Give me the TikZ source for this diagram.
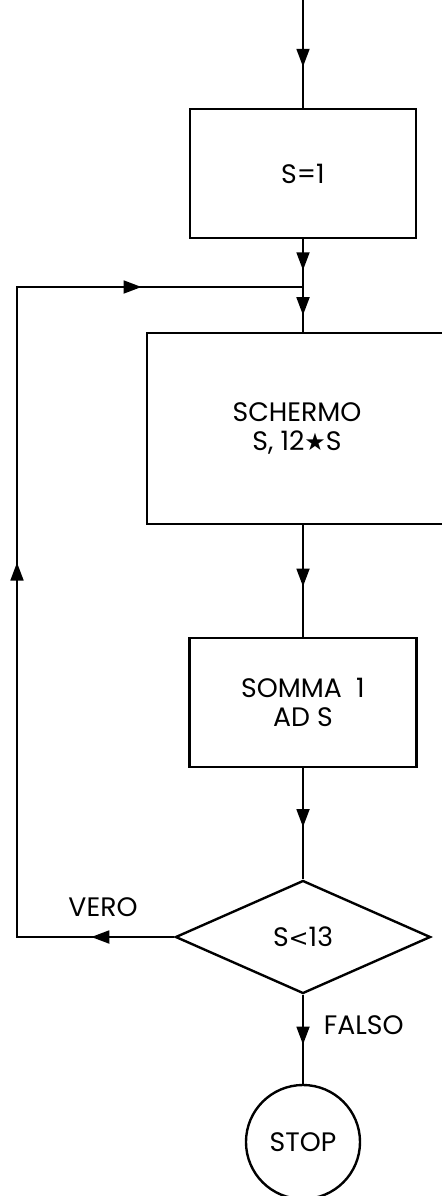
\documentclass[tikz,border=0pt]{standalone}
\usepackage{fontspec}
\setmainfont{Poppins}
\newfontfamily\symfont{DejaVu Sans}
\usetikzlibrary{arrows.meta, shapes.geometric, decorations.markings}

\tikzset{
  stepbox/.style={draw, rectangle, align=center, inner sep=0pt},
  testbox/.style={draw, diamond, inner sep=0pt, minimum width=6.375cm, minimum height=2.825cm},
  endbox/.style={draw, circle, inner sep=0pt, minimum size=2.85cm},
  midarrow/.style={postaction={decorate, decoration={markings,
      mark=at position #1 with {\arrow{>}}}}}
}

\begin{document}
\begin{tikzpicture}[x=0.025cm, y=-0.025cm, line width=1.7pt,
    font=\fontsize{19}{21}\selectfont,
    >={Triangle[length=0.45cm, width=0.32cm]}]
  \useasboundingbox (0,0) rectangle (441,1196);

  % 1. blocchi del diagramma
  \coordinate (start) at (303,0);
  \node[stepbox, minimum width=5.65cm, minimum height=3.225cm] (init) at (303,173.5) {S=1};
  \coordinate (join) at (303,287);
  \node[stepbox, minimum width=7.5cm, minimum height=4.775cm] (show) at (297,428.5)
        {SCHERMO\\S, 12{\symfont\fontsize{17}{17}\selectfont ★}S};
  \node[stepbox, minimum width=5.675cm, minimum height=3.225cm] (add) at (303,702.5)
        {SOMMA\ \ 1\\AD\ S};
  \node[testbox] (test) at (303,937) {S{\symfont\fontsize{17}{17}\selectfont <}13};
  \node[endbox] (stop) at (303,1142) {STOP};

  % 2. frecce verso il basso
  \draw[midarrow=0.62] (start) -- (init.north);
  \draw[midarrow=0.65] (init.south) -- (join);
  \draw[midarrow=0.63] (join) -- (join |- show.north);
  \draw[midarrow=0.55] (add.north |- show.south) -- (add.north);
  \draw[midarrow=0.53] (add.south) -- (test.north);
  \draw[midarrow=0.56] (test.south) -- (stop.north);

  % 3. ritorno (ramo VERO)
  \coordinate (cornerB) at (17,937);
  \coordinate (cornerT) at (17,287);
  \draw[postaction={decorate, decoration={markings,
      mark=at position 2.075cm with {\arrow{>}},
      mark=at position 13.29cm with {\arrow{>}},
      mark=at position 23.29cm with {\arrow{>}}}}]
    (test.west) -- (cornerB) -- (cornerT) -- (join);

  % 4. etichette
  \node (vero) at (103,907) {VERO};
  \node[anchor=west] (falso) at (318,1025) {FALSO};
\end{tikzpicture}
\end{document}
